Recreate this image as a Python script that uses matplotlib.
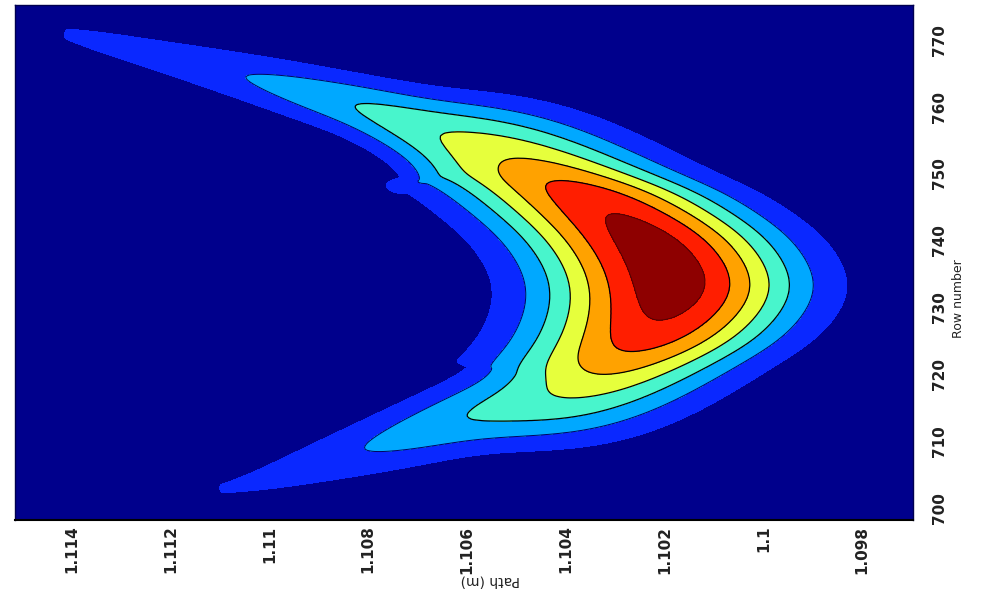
import numpy as np
import matplotlib
matplotlib.use("Agg")
import matplotlib.pyplot as plt
from matplotlib.colors import ListedColormap, BoundaryNorm

# ---- data -----------------------------------------------------------------
# ridge of the intensity field: (path [m], row number), peak value,
# half width along the section direction (row units) and section direction (deg)
ridge_path = [1.11430, 1.11222, 1.11040, 1.10823, 1.10649, 1.10580, 1.10513,
              1.10361, 1.10229, 1.10171, 1.10225, 1.10379, 1.10436, 1.10493,
              1.10600, 1.10803, 1.11040, 1.11116]
ridge_row = [771.20, 767.61, 764.32, 760.13, 755.65, 753.86, 752.06,
             747.28, 740.10, 732.93, 725.46, 717.68, 716.49, 715.44,
             713.80, 709.01, 703.63, 702.59]
ridge_peak = [1.02, 1.5, 2.0, 3.0, 4.0, 4.5, 5.0,
              6.55, 7.55, 7.75, 6.65, 4.3, 3.9, 3.5,
              3.0, 2.0, 1.12, 1.02]
ridge_width_rows = [3.0, 3.4, 4.3, 4.5, 6.2, 8.2, 17.9,
                    19.4, 18.8, 18.6, 18.5, 18.1, 9.5, 6.4,
                    5.6, 4.9, 3.1, 3.0]
ridge_section_deg = [76, 76, 75, 72, 55, 30, 0,
                     0, 0, 0, 0, 0, -25, -50,
                     -70, -74, -74, -74]

levels = [0, 1, 2, 3, 4, 5, 6, 7, 8]
band_colors = ["#00008C", "#0A28FF", "#00A8FF", "#48F5CC",
               "#E6FF3C", "#FFA200", "#FF1E00", "#8E0000"]

path_ticks = [1.114, 1.112, 1.11, 1.108, 1.106, 1.104, 1.102, 1.1, 1.098]
path_tick_labels = ["1.114", "1.112", "1.11", "1.108", "1.106", "1.104",
                    "1.102", "1.1", "1.098"]
row_ticks = [700, 710, 720, 730, 740, 750, 760, 770]
row_tick_labels = [str(r) for r in row_ticks]

# ---- build the field -------------------------------------------------------
path_to_rows = 7380.6  # display aspect: one path unit in row-equivalent units
along_sigma = 1.5
n_dense = 1600


def smooth(arr, sigma):
    k = np.arange(-4 * sigma, 4 * sigma + 1)
    g = np.exp(-0.5 * (k / sigma) ** 2)
    g /= g.sum()
    pad = len(k) // 2
    a = np.concatenate([np.full(pad, arr[0]), arr, np.full(pad, arr[-1])])
    return np.convolve(a, g, mode="valid")


u = -np.array(ridge_path) * path_to_rows      # increases to the right
v = np.array(ridge_row)
seg = np.hypot(np.diff(u), np.diff(v))
s = np.concatenate([[0], np.cumsum(seg)])
sd = np.linspace(0, s[-1], n_dense)
RU = smooth(np.interp(sd, s, u), 32)
RV = smooth(np.interp(sd, s, v), 32)
RA = smooth(np.interp(sd, s, ridge_peak), 25)
RW = smooth(np.interp(sd, s, ridge_width_rows), 55)
RT = np.deg2rad(smooth(np.interp(sd, s, ridge_section_deg), 55))

pg = np.linspace(1.0960, 1.1160, 360)
rg = np.linspace(697.0, 777.0, 360)
PG, RG = np.meshgrid(pg, rg)
UG = -PG * path_to_rows
Z = np.zeros_like(PG)
for a, b, th, amp, w in zip(RU, RV, RT, RA, RW):
    dx = UG - a
    dy = RG - b
    dn = dx * np.cos(th) + dy * np.sin(th)
    dal = -dx * np.sin(th) + dy * np.cos(th)
    Z = np.maximum(Z, amp * np.exp(-(dn / w) ** 2 - (dal / along_sigma) ** 2))

# ---- draw -------------------------------------------------------------------
fig = plt.figure(figsize=(9.87, 5.95), dpi=100)
ax = fig.add_axes([15 / 987, 1 - 520 / 595, (913 - 15) / 987, (520 - 5) / 595])

cmap = ListedColormap(band_colors)
norm = BoundaryNorm(levels, cmap.N)
ax.contourf(PG, RG, Z, levels=levels, cmap=cmap, norm=norm)
ax.contour(PG, RG, Z, levels=[3, 4, 5, 6], colors="black", linewidths=0.9)
ax.contour(PG, RG, Z, levels=[2], colors="#000060", linewidths=0.7)
ax.contour(PG, RG, Z, levels=[7], colors="#500000", linewidths=0.7)

ax.set_xlim(1.11515, 1.09697)
ax.set_ylim(698.2, 775.2)

tick_font = dict(fontsize=11, color="#222222", fontweight="bold",
                 family="DejaVu Sans Condensed")
ax.set_xticks(path_ticks)
ax.set_xticklabels(path_tick_labels, rotation=90, **tick_font)
ax.yaxis.tick_right()
ax.yaxis.set_label_position("right")
ax.set_yticks(row_ticks)
ax.set_yticklabels(row_tick_labels, rotation=90, va="center", **tick_font)
ax.tick_params(axis="both", length=0)
ax.tick_params(axis="x", pad=4)
ax.tick_params(axis="y", pad=14)

ax.set_xlabel("Path (m)", rotation=180, fontsize=10, color="#222222")
ax.xaxis.set_label_coords(0.529, -0.103)
ax.set_ylabel("Row number", rotation=90, fontsize=9, color="#222222")
ax.yaxis.set_label_coords(1.043, 0.43)

for side in ["left", "right", "top"]:
    ax.spines[side].set_color("#000050")
    ax.spines[side].set_linewidth(1.0)
ax.spines["bottom"].set_color("black")
ax.spines["bottom"].set_linewidth(1.5)

fig.savefig("out.png", dpi=100)
